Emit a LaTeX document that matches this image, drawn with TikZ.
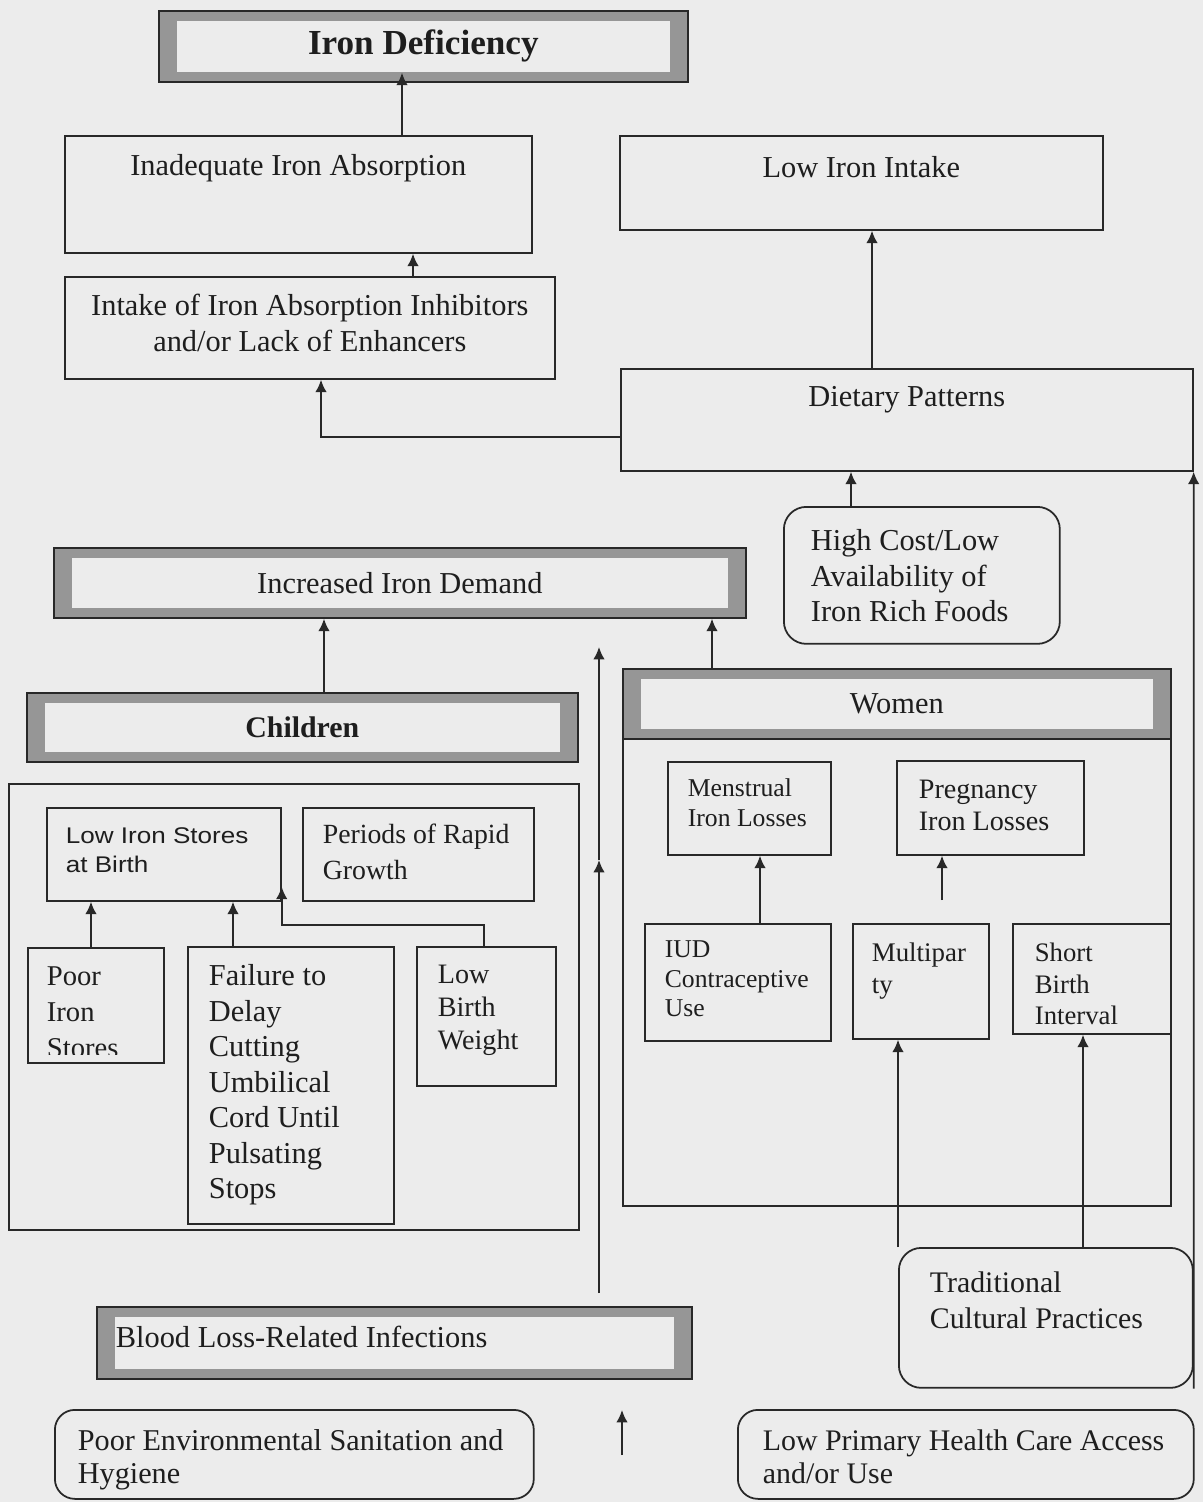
\documentclass[tikz,border=0pt]{standalone}
\usepackage{fontspec}
\usepackage{xcolor}
\usepackage{tikz}
\usetikzlibrary{arrows.meta}
\setmainfont{Liberation Serif}
\newfontfamily\widesans[FakeStretch=1.15]{Liberation Sans}
\definecolor{bgcol}{RGB}{236,236,236}
\definecolor{framecol}{RGB}{150,150,150}
\definecolor{linecol}{RGB}{40,40,40}
\definecolor{txtcol}{RGB}{30,30,30}
\hyphenpenalty=10000
\exhyphenpenalty=10000

\begin{document}
\begin{tikzpicture}[x=0.02cm, y=-0.02cm, >={Latex[length=7pt,width=6.5pt]}, font=\fontsize{17.3}{20}\selectfont, text=txtcol, execute at begin node={\spaceskip=0pt\xspaceskip=0pt}]
    \tikzstyle{box} = [draw=linecol, line width=1pt, anchor=north west, inner ysep=0pt, inner xsep=0.4cm, align=flush left]
    \tikzstyle{roundbox} = [box, rounded corners=0.45cm]
    \tikzstyle{frame} = [draw=linecol, line width=1pt, fill=framecol, anchor=north west, path picture={\fill[bgcol] ([shift={(0.36cm,0.2cm)}]path picture bounding box.south west) rectangle ([shift={(-0.36cm,-0.2cm)}]path picture bounding box.north east);}]
    \tikzstyle{arrow} = [draw=linecol, line width=1pt, ->]

    \path[fill=bgcol, use as bounding box] (0,0) rectangle (1203,1502);

    \node[frame, minimum width=10.58cm, minimum height=1.42cm, font=\fontsize{20}{24}\selectfont\bfseries] (irondef) at (158,10) {Iron Deficiency};
    \node[box, text width=8.54cm, align=flush center, text height=0.8cm, text depth=1.54cm] (inadeq) at (64,135) {Inadequate Iron Absorption};
    \node[box, text width=9.0cm, align=flush center, text height=0.78cm, text depth=1.26cm] (intake) at (64,276) {Intake of Iron Absorption Inhibitors\\and/or Lack of Enhancers};
    \node[box, text width=8.86cm, align=flush center, text height=0.84cm, text depth=1.04cm] (lowintake) at (619,135) {Low Iron Intake};
    \node[box, text width=10.64cm, align=flush center, text height=0.76cm, text depth=1.28cm] (dietary) at (620,368) {Dietary Patterns};
    \node[roundbox, inner xsep=0.54cm, text width=4.44cm, text height=0.88cm, text depth=1.86cm] (highcost) at (783,506) {High Cost/Low\\Availability of\\Iron Rich Foods};
    \node[frame, minimum width=13.84cm, minimum height=1.4cm] (incdemand) at (53,547) {Increased Iron Demand};

    \node[box, minimum width=11.4cm, minimum height=8.92cm] (childbox) at (8,783) {};
    \node[frame, minimum width=11.02cm, minimum height=1.38cm, font=\fontsize{17}{20}\selectfont\bfseries] (children) at (26,692) {Children};
    \node[box, inner xsep=0.38cm, text width=3.92cm, text height=0.72cm, text depth=1.14cm, font=\widesans\fontsize{12.9}{16.5}\selectfont] (lowstores) at (46,807) {Low Iron Stores\\at Birth};
    \node[box, text width=3.82cm, text height=0.72cm, text depth=1.14cm, font=\fontsize{15.8}{20.5}\selectfont] (periods) at (302,807) {Periods of Rapid\\Growth};
    \node[box, inner xsep=0.38cm, text width=1.96cm, text height=0.76cm, text depth=1.54cm, font=\fontsize{16.3}{20.5}\selectfont] (poor) at (27,947) {Poor\\Iron\\Stores};
    \fill[bgcol] ([shift={(1pt,1pt)}]poor.south west) rectangle ([shift={(-1pt,0.18cm)}]poor.south east);
    \node[box, inner xsep=0.42cm, text width=3.28cm, text height=0.78cm, text depth=4.76cm, font=\fontsize{17.3}{20.2}\selectfont] (failure) at (187,946) {Failure to\\Delay\\Cutting\\Umbilical\\Cord Until\\Pulsating\\Stops};
    \node[box, inner xsep=0.42cm, text width=1.94cm, text height=0.74cm, text depth=2.04cm, font=\fontsize{16}{18.8}\selectfont] (lbw) at (416,946) {Low\\Birth\\Weight};

    \node[box, minimum width=10.96cm, minimum height=9.34cm] (womenbox) at (622,738) {};
    \node[frame, minimum width=10.96cm, minimum height=1.4cm] (women) at (622,668) {Women};
    \node[box, text width=2.46cm, text height=0.7cm, text depth=1.16cm, font=\fontsize{14.6}{16.8}\selectfont] (menstrual) at (667,761) {Menstrual\\Iron Losses};
    \node[box, inner xsep=0.44cm, text width=2.86cm, text height=0.76cm, text depth=1.12cm, font=\fontsize{16}{18.2}\selectfont] (pregnancy) at (896,760) {Pregnancy\\Iron Losses};
    \node[box, text width=2.92cm, text height=0.68cm, text depth=1.66cm, font=\fontsize{14.6}{16.8}\selectfont] (iud) at (644,923) {IUD\\Contraceptive\\Use};
    \node[box, inner xsep=0.38cm, text width=1.96cm, text height=0.76cm, text depth=1.54cm, font=\fontsize{15.3}{18.2}\selectfont] (multipar) at (852,923) {Multipar\\ty};
    \node[box, inner xsep=0.44cm, text width=2.28cm, text height=0.76cm, text depth=1.44cm, font=\fontsize{15.2}{17.9}\selectfont] (short) at (1012,923) {Short\\Birth\\Interval};

    \node[roundbox, inner xsep=0.62cm, text width=4.64cm, text height=0.9cm, text depth=1.9cm, font=\fontsize{17}{20.4}\selectfont] (traditional) at (898,1247) {Traditional\\Cultural Practices};
    \node[frame, inner ysep=0pt, inner xsep=0.38cm, text width=11.14cm, text height=0.82cm, text depth=0.62cm, align=flush left] (bloodloss) at (96,1306) {Blood Loss-Related Infections};
    \node[roundbox, rounded corners=0.4cm, inner xsep=0.46cm, text width=8.66cm, text height=0.82cm, text depth=0.96cm, font=\fontsize{17.2}{18.8}\selectfont] (poorenv) at (54,1409) {Poor Environmental Sanitation and\\Hygiene};
    \node[roundbox, rounded corners=0.4cm, inner xsep=0.5cm, text width=8.12cm, text height=0.82cm, text depth=0.96cm, font=\fontsize{17}{18.8}\selectfont] (lowphc) at (737,1409) {Low Primary Health Care Access\\and/or Use};

    \coordinate (midtip) at (599,860);
    \coordinate (demandtip) at (599,647);
    \coordinate (pregtail) at (942,900);
    \coordinate (loosetail) at (622,1455);
    \coordinate (loosetip) at (622,1410);

    \draw[arrow, shorten >=-0.2cm] (inadeq.north -| 402,0) -- (irondef.south -| 402,0);
    \draw[arrow] (intake.north -| 413,0) -- (inadeq.south -| 413,0);
    \draw[arrow] (dietary.west |- 0,437) -| (intake.south -| 321,0);
    \draw[arrow] (dietary.north -| 872,0) -- (lowintake.south -| 872,0);
    \draw[arrow] (highcost.north -| 851,0) -- (dietary.south -| 851,0);
    \draw[arrow] (traditional.south east) -- (dietary.south east);
    \draw[arrow] (children.north -| 324,0) -- (incdemand.south -| 324,0);
    \draw[arrow] (women.north -| 712,0) -- (incdemand.south -| 712,0);
    \draw[arrow, shorten <=0.26cm] (bloodloss.north -| midtip) -- (midtip);
    \draw[arrow] (midtip) -- (demandtip);
    \draw[arrow] (poor.north -| 91,0) -- (lowstores.south -| 91,0);
    \draw[arrow] (failure.north -| 233,0) -- (lowstores.south -| 233,0);
    \draw[arrow] (lbw.north -| 484,0) |- ([yshift=-0.46cm]lowstores.south east) -- ([yshift=0.3cm]lowstores.south east);
    \draw[arrow] (iud.north -| 760,0) -- (menstrual.south -| 760,0);
    \draw[arrow] (pregtail) -- (pregnancy.south -| pregtail);
    \draw[arrow] (traditional.north west) -- (multipar.south -| traditional.north west);
    \draw[arrow] (traditional.north -| 1083,0) -- (short.south -| 1083,0);
    \draw[arrow] (loosetail) -- (loosetip);
\end{tikzpicture}
\end{document}
